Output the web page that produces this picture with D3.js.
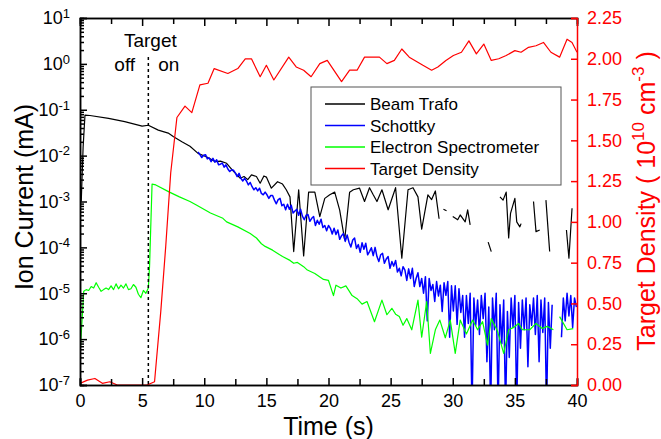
<!DOCTYPE html>
<html lang="en">
<head>
<meta charset="UTF-8" />
<title>ion-current</title>
<style>
  body { margin: 0; background: #fff; }
  svg { display: block; font-family: "Liberation Sans", Arial, Helvetica, sans-serif; }
  .axis path, .axis line { stroke: #000; stroke-width: 1.5; }
  .axis text { font-size: 18px; fill: #000; }
  .axis-red path, .axis-red line { stroke: #f00; }
  .axis-red text { fill: #f00; }
  .series { fill: none; stroke-width: 1.2; stroke-linejoin: round; }
  .series.noisy { stroke-width: 1.5; }
  .title { font-size: 25px; }
</style>
</head>
<body>
<script src="https://cdn.jsdelivr.net/npm/d3@7"></script>
<script>
// ---- data ----
const trafoTime = [0.1, 0.25, 0.4, 0.8, 2.3, 3.6, 5.0, 5.5, 6.3, 7.1, 7.5, 8.2, 8.85, 9.5, 10.2, 10.9, 11.3, 11.8, 12.3, 12.9,
  13.2, 13.5, 13.8, 14.2, 14.5, 14.8, 15.0, 15.4, 15.9, 16.3, 16.6, 16.9, 17.2, 17.6, 18.0, 18.4, 18.9, 19.3, 19.7, 20.1,
  20.5, 20.9, 21.3, 21.7, 22.0, 22.5, 22.9, 23.3, 23.6, 23.9, 24.3, 24.8, 25.4, 25.9, 26.4, 26.8, 27.2, 27.5, 28.0, 28.3,
  28.6, 28.9, 29.1, 29.25, 29.5, 29.7, 30.0, 30.4, 30.6, 31.0, 31.2, 31.4, 31.6, 32.85, 33.1, 33.4, 33.8, 34.05, 34.3, 34.5,
  34.65, 35.0, 35.15, 35.4, 35.5, 35.8, 36.5, 36.7, 37.0, 37.2, 37.5, 37.8, 38.0, 39.15, 39.35, 39.6];
const trafoCurrent = [1.0e-3, 1.5e-2, 7.6e-2, 7.5e-2, 6.5e-2, 5.5e-2, 4.4e-2, 4.6e-2, 3.6e-2, 3.1e-2, 2.6e-2, 2.0e-2, 1.6e-2, 1.12e-2, 9.3e-3, 7.4e-3, 7.6e-3, 6.8e-3, 4.7e-3, 3.2e-3,
  3.5e-3, 3.0e-3, 3.8e-3, 3.5e-3, 2.5e-3, 3.6e-3, 3.4e-3, 1.95e-3, 2.7e-3, 2.4e-3, 1.8e-3, 1.26e-3, 8.1e-5, 1.8e-3, 6.5e-5, 1.6e-3, 1.6e-3, 4.7e-4, 1.17e-3, 1.4e-3,
  1.6e-3, 6.5e-4, 1.45e-4, 1.6e-3, 1.8e-3, 1.95e-3, 1.0e-3, 2.0e-3, 1.4e-3, 1.0e-3, 1.8e-3, 6.6e-4, 2.0e-3, 5.8e-5, 1.8e-3, 2.0e-3, 1.26e-3, 2.5e-4, 1.4e-3, 1.1e-3,
  1.7e-3, 4.2e-4, null, 6.8e-4, 6.3e-4, null, 4.7e-4, 4.0e-4, 5.1e-4, 3.6e-4, 6.6e-4, 3.1e-4, null, 1.3e-4, 8.1e-5, null, 1.26e-3, 1.07e-3, 1.6e-3, 1.6e-4,
  5.5e-4, 1.17e-3, 3.6e-4, 2.8e-4, 3.3e-4, null, 1.0e-3, 2.2e-4, 2.4e-4, null, 1.07e-3, 8.1e-5, null, 2.4e-4, 5.8e-5, 7.1e-4];

// Schottky signal: one sample every 0.15 s from 9.5 s
const schottkyStart = 9.5;
const schottkyStep = 0.15;
const schottkyCurrent = [
  1.2e-2, 1.05e-2, 9.1e-3, 1.02e-2, 1.05e-2, 8.5e-3, 8.9e-3, 7.4e-3, 8.7e-3, 7.2e-3,
  8.1e-3, 6.3e-3, 6.5e-3, 6.9e-3, 5.6e-3, 6.3e-3, 5.1e-3, 4.5e-3, 4.9e-3, 4.8e-3,
  4.2e-3, 3.5e-3, 4.1e-3, 3.2e-3, 2.8e-3, 3.2e-3, 2.8e-3, 2.3e-3, 2.6e-3, 2.1e-3,
  1.8e-3, 2.0e-3, 1.7e-3, 1.95e-3, 1.5e-3, 1.4e-3, 1.6e-3, 1.4e-3, 1.17e-3, 1.35e-3,
  1.35e-3, 1.07e-3, 8.9e-4, 1.1e-3, 1.17e-3, 8.1e-4, 8.7e-4, 6.6e-4, 8.7e-4, 6.8e-4,
  8.3e-4, 5.6e-4, 6.2e-4, 6.8e-4, 5.0e-4, 6.8e-4, 4.8e-4, 4.0e-4, 5.0e-4, 5.2e-4,
  3.7e-4, 4.3e-4, 4.7e-4, 3.0e-4, 3.9e-4, 3.2e-4, 4.1e-4, 2.7e-4, 3.0e-4, 2.3e-4,
  3.0e-4, 2.6e-4, 1.95e-4, 2.6e-4, 1.9e-4, 2.4e-4, 1.5e-4, 1.8e-4, 2.0e-4, 1.35e-4,
  1.86e-4, 1.3e-4, 1.02e-4, 1.45e-4, 1.6e-4, 9.5e-5, 1.15e-4, 7.8e-5, 1.26e-4, 9.1e-5,
  1.23e-4, 6.9e-5, 8.1e-5, 9.8e-5, 6.6e-5, 1.0e-4, 6.3e-5, 4.9e-5, 6.9e-5, 7.4e-5,
  4.5e-5, 5.6e-5, 6.3e-5, 3.5e-5, 4.9e-5, 3.9e-5, 5.2e-5, 2.9e-5, 3.5e-5, 2.4e-5,
  3.8e-5, 3.2e-5, 1.9e-5, 3.4e-5, 2.1e-5, 3.5e-5, 1.4e-5, 2.1e-5, 2.8e-5, 1.4e-5,
  2.1e-5, 1.0e-5, 2.3e-5, 2.5e-6, 2.1e-5, 1.15e-5, 1.55e-5, 6.6e-6, 1.8e-5, 8.7e-6,
  1.5e-5, 4.0e-6, 1.7e-5, 9.0e-6, 1.8e-5, 1.1e-6, 1.45e-5, 4.1e-6, 1.45e-5, 2.1e-6,
  1.26e-5, 3.8e-6, 8.9e-6, 1.1e-6, 8.9e-6, 2.2e-6, 1.0e-5, 3e-8, 7.9e-6, 2.0e-6,
  7.1e-6, 1.26e-6, 8.9e-6, 2.8e-6, 1.0e-5, 3.2e-7, 5.0e-6, 3e-8, 7.9e-6, 1.6e-6,
  1.0e-5, 3e-8, 5.6e-6, 7.9e-7, 7.1e-6, 3e-8, 4.0e-6, 4.0e-7, 7.9e-6, 1.8e-6,
  8.9e-6, 3e-8, 6.3e-6, 6.3e-7, 7.1e-6, 1.6e-6, 7.9e-6, 2.5e-7, 5.6e-6, 2.0e-6,
  7.9e-6, 1.26e-6, 8.9e-6, 3.2e-7, 7.1e-6, 1.4e-6, 7.9e-6, 3e-8, 6.3e-6, 6.3e-7,
  5.6e-6, null, null, null, null, 1.1e-6, 7.9e-6, 2.5e-6, 1.0e-5, 3.2e-6,
  8.9e-6, 1.8e-6, 7.9e-6, 5.0e-6];

const spectrometerTime = [0, 0.3, 0.5, 0.7, 0.9, 1.1, 1.3, 1.5, 1.7, 1.9, 2.1, 2.3, 2.5, 2.7, 2.9, 3.1, 3.3, 3.5, 3.7, 3.9,
  4.1, 4.3, 4.5, 4.7, 4.9, 5.1, 5.3, 5.5, 5.6, 5.8, 6.1, 7.2, 8.0, 8.85, 9.4, 10.5, 11.5, 11.8, 12.7, 13.7,
  14.2, 14.6, 14.9, 15.5, 16.3, 16.9, 17.2, 17.5, 18.0, 18.3, 18.9, 19.6, 20.0, 20.4, 20.6, 21.0, 21.4, 21.9, 22.3, 22.7,
  23.1, 23.7, 24.3, 24.7, 25.1, 25.4, 25.7, 26.0, 26.3, 26.7, 27.2, 27.5, 27.9, 28.2, 28.6, 28.96, 29.4, 29.8, 30.2, 30.6,
  31.1, 31.6, 32.0, 32.4, 32.8, 33.1, 33.6, 34.1, 34.5, 34.9, 35.3, 35.6, 36.2, 36.7, 37.2, 37.6, 38.1, 38.35, 38.6, 39.2, 39.7];
const spectrometerCurrent = [4.5e-7, 1.1e-5, 1.2e-5, 1.15e-5, 1.4e-5, 1.3e-5, 1.7e-5, 1.35e-5, 1.1e-5, 1.2e-5, 1.3e-5, 1.2e-5, 1.45e-5, 1.2e-5, 1.6e-5, 1.25e-5, 1.5e-5, 1.3e-5, 1.6e-5, 1.2e-5,
  1.25e-5, 1.55e-5, 1.35e-5, 9.5e-6, 8e-6, 1.15e-5, 1.0e-5, 1.3e-5, 4e-5, 2.4e-3, 2.3e-3, 1.6e-3, 1.26e-3, 1.0e-3, 8.3e-4, 5.6e-4, 4.3e-4, 3.6e-4, 2.8e-4, 2.0e-4,
  1.6e-4, 1.2e-4, 1.05e-4, 8.7e-5, 6.3e-5, 5.2e-5, 4.5e-5, 4.7e-5, 3.8e-5, 3.2e-5, 2.7e-5, 2.0e-5, 1.9e-5, 8.9e-6, 1.5e-5, 1.3e-5, 1.45e-5, 8.9e-6, 7.6e-6, 5.8e-6,
  6.6e-6, 2.4e-6, 7.1e-6, 3.4e-6, 4.7e-6, 3.5e-6, 3.1e-6, 2.0e-6, 2.8e-6, 1.6e-6, 7.1e-6, 1.1e-6, 6.6e-6, 4.9e-7, 1.6e-6, 2.6e-6, 1.07e-6, 2.6e-6, 4.9e-7, 2.6e-6,
  1.3e-6, 2.6e-6, 1.6e-6, 2.4e-6, 7.4e-7, 2.8e-6, 1.5e-6, 4.9e-7, 1.6e-6, 1.8e-6, 2.2e-6, 1.6e-6, 1.6e-6, 2.2e-6, 1.7e-6, 1.9e-6, 1.6e-6, null, 3.1e-6, 1.6e-6, 1.7e-6];

const densityTime = [0, 0.6, 1.2, 1.8, 2.4, 3.0, 3.6, 4.2, 4.8, 5.4, 6.0, 6.15, 6.5, 6.9, 7.3, 7.8, 8.45, 9.0, 9.65, 10.3,
  10.8, 11.9, 12.7, 13.3, 13.8, 14.5, 15.0, 15.6, 16.8, 17.4, 18.0, 18.6, 19.3, 19.9, 21.05, 21.7, 22.3, 22.9, 24.1, 24.7,
  25.3, 25.9, 26.5, 27.6, 28.3, 28.8, 29.45, 30.05, 30.7, 31.3, 31.9, 32.5, 33.1, 33.7, 34.3, 35.0, 35.5, 36.1, 36.7, 37.3,
  37.9, 38.6, 39.2, 39.6, 40];
const density = [0.01, 0.03, 0.04, 0.01, 0.02, 0.0, 0.0, 0.0, 0.0, 0.0, 0.02, 0.15, 0.45, 0.85, 1.3, 1.64, 1.71, 1.67, 1.84, 1.85,
  1.94, 1.91, 1.94, 2.0, 2.0, 1.89, 1.96, 1.87, 2.01, 1.95, 1.93, 1.89, 1.97, 1.99, 1.86, 1.93, 1.93, 2.01, 2.01, 1.97,
  1.99, 2.06, 2.01, 1.96, 1.93, 1.95, 1.99, 2.02, 2.04, 2.11, 2.03, 2.09, 1.99, 2.0, 2.02, 2.05, 2.04, 2.07, 2.08, 2.1,
  2.04, 2.01, 2.12, 2.1, 2.04];

const timeTicks = [0, 5, 10, 15, 20, 25, 30, 35, 40];
const currentTicks = [1e-7, 1e-6, 1e-5, 1e-4, 1e-3, 1e-2, 1e-1, 1e0, 1e1];
const densityTicks = [0, 0.25, 0.5, 0.75, 1.0, 1.25, 1.5, 1.75, 2.0, 2.25];
const legendLabels = ["Beam Trafo", "Schottky", "Electron Spectrometer", "Target Density"];
const seriesColors = ["#000000", "#0000ff", "#00ff00", "#ff0000"];

// ---- layout ----
const width = 661, height = 439;
const margin = { left: 80, right: 84, top: 18, bottom: 54 };
const plotW = width - margin.left - margin.right;
const plotH = height - margin.top - margin.bottom;

const svg = d3.select("body").append("svg").attr("width", width).attr("height", height);
const g = svg.append("g").attr("transform", `translate(${margin.left},${margin.top})`);

const x = d3.scaleLinear().domain([0, 40]).range([0, plotW]);
const y = d3.scaleLog().domain([1e-7, 1e1]).range([plotH, 0]);
const yR = d3.scaleLinear().domain([0, 2.25]).range([plotH, 0]);

g.append("clipPath").attr("id", "clip")
  .append("rect").attr("width", plotW).attr("height", plotH);

const zip = (ts, vs) => ts.map((t, i) => ({ t: t, v: vs[i] }));
const trafo = zip(trafoTime, trafoCurrent);
const schottky = schottkyCurrent.map((v, i) => ({ t: schottkyStart + i * schottkyStep, v: v }));
const spectro = zip(spectrometerTime, spectrometerCurrent);
const dens = zip(densityTime, density);

const lineL = d3.line().defined(d => d.v != null).x(d => x(d.t)).y(d => y(d.v));
const lineR = d3.line().x(d => x(d.t)).y(d => yR(d.v));

const plot = g.append("g").attr("clip-path", "url(#clip)");
plot.append("path").datum(trafo).attr("class", "series").attr("stroke", seriesColors[0]).attr("d", lineL);
plot.append("path").datum(schottky).attr("class", "series noisy").attr("stroke", seriesColors[1]).attr("d", lineL);
plot.append("path").datum(spectro).attr("class", "series").attr("stroke", seriesColors[2]).attr("d", lineL);
plot.append("path").datum(dens).attr("class", "series").attr("stroke", seriesColors[3]).attr("d", lineR);

// target on/off marker
g.append("line")
  .attr("x1", x(5.5)).attr("x2", x(5.5))
  .attr("y1", 39).attr("y2", plotH)
  .attr("stroke", "#000").attr("stroke-width", 1.5).attr("stroke-dasharray", "3,3");
g.append("text").attr("x", x(5.5) + 2).attr("y", 29).attr("text-anchor", "middle")
  .attr("font-size", "19px").text("Target");
g.append("text").attr("x", x(3.6)).attr("y", 53).attr("text-anchor", "middle")
  .attr("font-size", "19px").text("off");
g.append("text").attr("x", x(7.15)).attr("y", 53).attr("text-anchor", "middle")
  .attr("font-size", "19px").text("on");

// ---- axes ----
const minorTime = d3.range(2.5, 40, 5);
const minorCurrent = [];
for (let k = -7; k < 1; k++) for (let m = 2; m <= 9; m++) minorCurrent.push(m * Math.pow(10, k));

g.append("g").attr("class", "axis").attr("transform", `translate(0,${plotH})`)
  .call(d3.axisBottom(x).tickValues(timeTicks).tickSize(-7).tickPadding(9));
g.append("g").attr("class", "axis").attr("transform", `translate(0,${plotH})`)
  .call(d3.axisBottom(x).tickValues(minorTime).tickSize(-6).tickFormat(""));
g.append("g").attr("class", "axis")
  .call(d3.axisTop(x).tickValues(timeTicks).tickSize(-8).tickFormat(""));
g.append("g").attr("class", "axis")
  .call(d3.axisTop(x).tickValues(minorTime).tickSize(-6).tickFormat(""));

const gy = g.append("g").attr("class", "axis")
  .call(d3.axisLeft(y).tickValues(currentTicks).tickSize(-7).tickPadding(10));
g.append("g").attr("class", "axis")
  .call(d3.axisLeft(y).tickValues(minorCurrent).tickSize(-4).tickFormat(""));
gy.selectAll(".tick text").each(function (d) {
  const t = d3.select(this).text(null);
  t.append("tspan").text("10");
  t.append("tspan").attr("dy", "-0.5em").attr("font-size", "13px").text(Math.round(Math.log10(d)));
});

g.append("g").attr("class", "axis axis-red").attr("transform", `translate(${plotW},0)`)
  .call(d3.axisRight(yR).tickValues(densityTicks).tickSize(-6).tickPadding(10).tickFormat(d3.format(".2f")));

// ---- axis titles ----
svg.append("text").attr("class", "title").attr("text-anchor", "middle")
  .attr("transform", "translate(33,197) rotate(-90)").text("Ion Current (mA)");
svg.append("text").attr("class", "title").attr("text-anchor", "middle")
  .attr("x", margin.left + plotW / 2).attr("y", 435).text("Time (s)");
const rt = svg.append("text").attr("class", "title").attr("text-anchor", "middle").attr("fill", "#f00")
  .attr("transform", "translate(655,201) rotate(-90)");
rt.append("tspan").text("Target Density ( 10");
rt.append("tspan").attr("dy", -11).attr("font-size", "17px").text("10");
rt.append("tspan").attr("dy", 11).text(" cm");
rt.append("tspan").attr("dy", -11).attr("font-size", "17px").text("-3");
rt.append("tspan").attr("dy", 11).text(" )");

// ---- legend ----
const legend = svg.append("g").attr("transform", "translate(311,87)");
legend.append("rect").attr("width", 250).attr("height", 98)
  .attr("fill", "#fff").attr("stroke", "#555").attr("stroke-width", 1);
legendLabels.forEach((name, i) => {
  const ly = 17 + i * 21.5;
  legend.append("line").attr("x1", 14).attr("x2", 54).attr("y1", ly).attr("y2", ly)
    .attr("stroke", seriesColors[i]).attr("stroke-width", 1.5);
  legend.append("text").attr("x", 59).attr("y", ly + 6).attr("font-size", "17px").text(name);
});
</script>
</body>
</html>
